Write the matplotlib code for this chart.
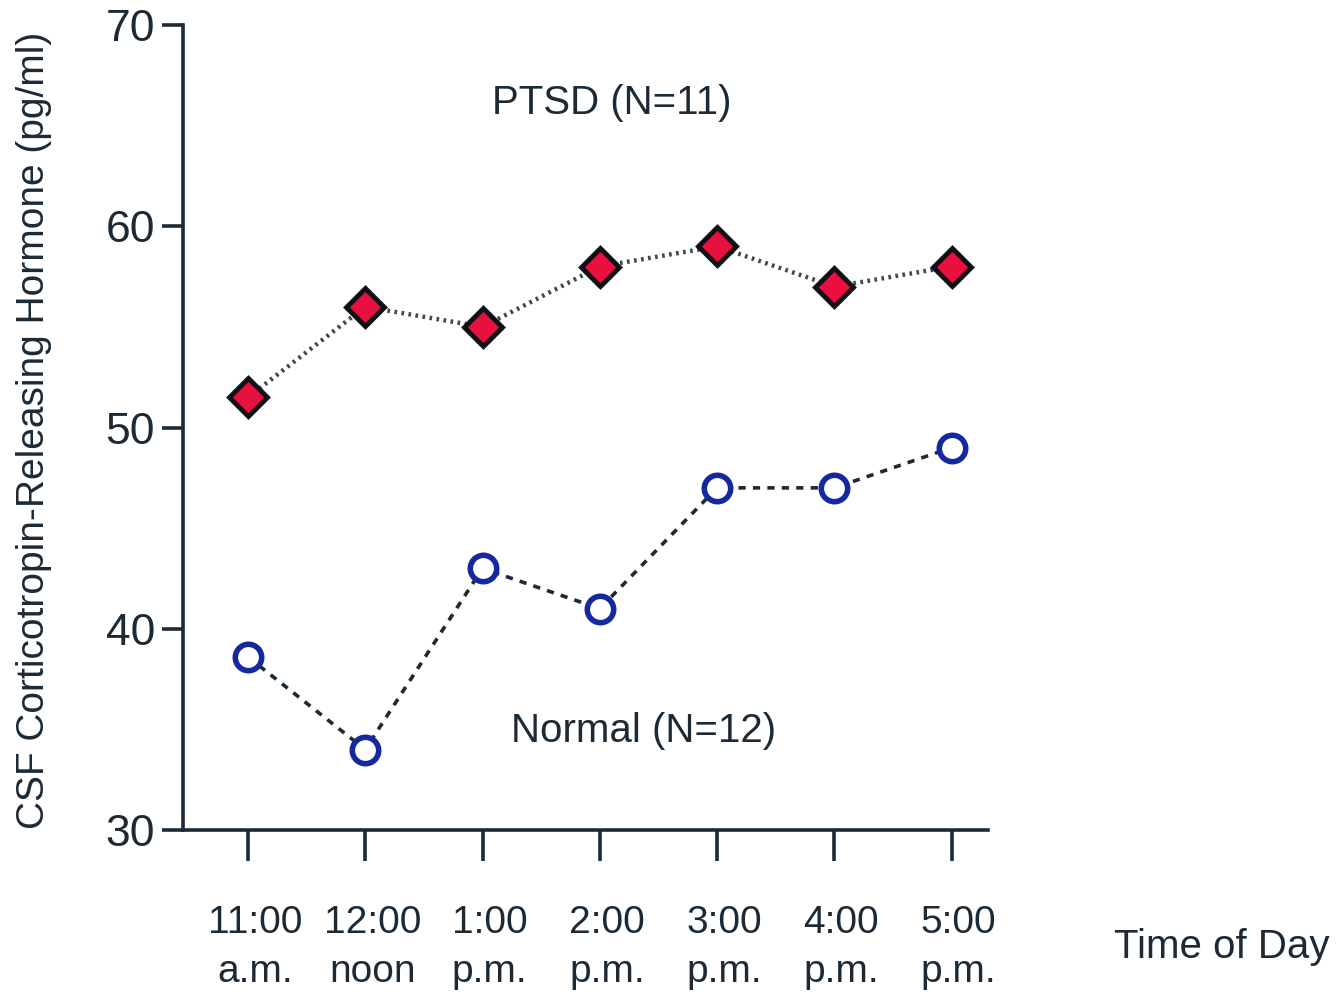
import matplotlib
matplotlib.use("Agg")
import matplotlib.pyplot as plt
import matplotlib.transforms as mtransforms

# Sampling times and mean CSF CRH levels
time_labels = ["11:00\na.m.", "12:00\nnoon", "1:00\np.m.", "2:00\np.m.", "3:00\np.m.", "4:00\np.m.", "5:00\np.m."]
ptsd_values = [51.5, 56.0, 55.0, 58.0, 59.0, 57.0, 58.0]
normal_values = [38.6, 34.0, 43.0, 41.0, 47.0, 47.0, 49.0]
y_ticks = [30, 40, 50, 60, 70]

ink = "#1c2a36"
fam = ["Liberation Sans Narrow", "Liberation Sans", "DejaVu Sans"]
plt.rcParams["font.family"] = fam

fig = plt.figure(figsize=(13.44, 9.94), dpi=100)
ax = fig.add_axes([183 / 1344, 1 - 830 / 994, (988 - 183) / 1344, (830 - 25) / 994])

x = list(range(len(time_labels)))
ax.plot(x, ptsd_values, linestyle=(0, (0.6, 1.0)), color="#3a4a55", lw=3.2,
        marker="D", ms=19, mfc="#e8103f", mec="#101018", mew=3.5, zorder=3)
ax.plot(x, normal_values, linestyle=(0, (2.0, 2.0)), color=ink, lw=2.6,
        marker="o", ms=19, mfc="white", mec="#1428a0", mew=4, zorder=3)

ax.set_xlim(-0.554, 6.31)
ax.set_ylim(30, 70)
ax.set_yticks(y_ticks)
ax.set_xticks(x)
ax.set_xticklabels(time_labels, fontsize=28, color=ink, linespacing=1.45)
ax.tick_params(axis="y", labelsize=32, labelcolor=ink, length=15, width=2.6, color=ink, direction="out", pad=5)
ax.tick_params(axis="x", length=22, width=2.6, color=ink, direction="out", pad=32)

# nudge the two-line time labels slightly to the right of their ticks
shift = mtransforms.ScaledTranslation(7 / 100, 0, fig.dpi_scale_trans)
for lbl in ax.get_xticklabels():
    lbl.set_transform(lbl.get_transform() + shift)

for s in ["top", "right"]:
    ax.spines[s].set_visible(False)
for s in ["left", "bottom"]:
    ax.spines[s].set_linewidth(2.6)
    ax.spines[s].set_color(ink)

ax.set_ylabel("CSF Corticotropin-Releasing Hormone (pg/ml)", fontsize=28, color=ink)
ax.yaxis.set_label_coords(-0.163, 0.497)

ax.text(3.1, 66.1, "PTSD (N=11)", fontsize=29, color=ink, ha="center", va="center")
ax.text(3.37, 34.9, "Normal (N=12)", fontsize=29, color=ink, ha="center", va="center")
fig.text(1222 / 1344, 1 - 947 / 994, "Time of Day", fontsize=29, color=ink, ha="center", va="center")

fig.savefig("out.png", dpi=100, facecolor="white")
